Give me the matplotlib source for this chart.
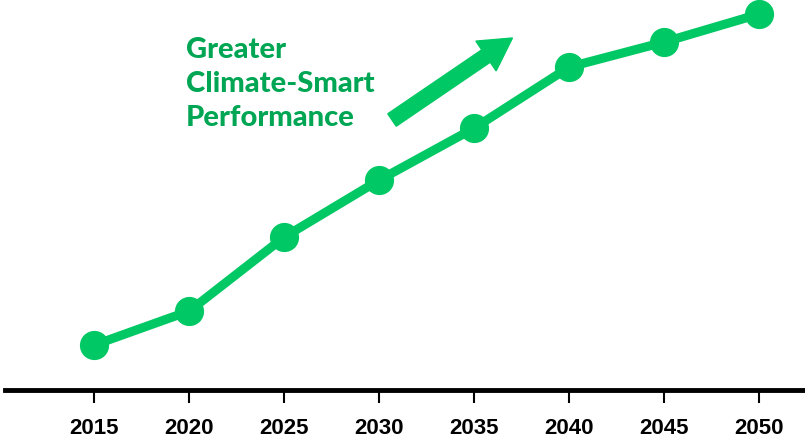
import matplotlib.pyplot as plt
from matplotlib.patches import FancyArrow
from matplotlib.transforms import IdentityTransform

years = [2015, 2020, 2025, 2030, 2035, 2040, 2045, 2050]
performance = [45, 79, 153, 210, 262, 323, 348, 376]
label_lines = ["Greater", "Climate-Smart", "Performance"]

line_green = "#00C864"
text_green = "#00A654"

fig = plt.figure(figsize=(8.05, 4.42), dpi=100)
ax = fig.add_axes([5 / 805, 52 / 442, 800 / 805, 390 / 442])

ax.plot(years, performance, color=line_green, lw=6.5, marker="o", ms=20,
        solid_capstyle="round", clip_on=False, zorder=3)

ax.set_xlim(2010.3, 2052.4)
ax.set_ylim(0, 390)
ax.set_xticks(years)
ax.set_xticklabels([str(y) for y in years], fontsize=16, fontweight="bold",
                   family="Liberation Sans")
ax.set_yticks([])
for side in ["left", "right", "top"]:
    ax.spines[side].set_visible(False)
ax.spines["bottom"].set_linewidth(3.5)
ax.tick_params(axis="x", length=9, width=1.5, pad=11)

# caption and arrow
for i, line in enumerate(label_lines):
    fig.text(186 / 805, 1 - (50 + 34 * i) / 442, line, color=text_green,
             fontsize=21, fontweight="black", family="Lato", va="center", ha="left")

arrow = FancyArrow(392, 442 - 120, 94, 64, width=15, head_width=36,
                   head_length=32, length_includes_head=False,
                   color=line_green, transform=IdentityTransform())
fig.patches.append(arrow)

fig.savefig("out.png", dpi=100)
